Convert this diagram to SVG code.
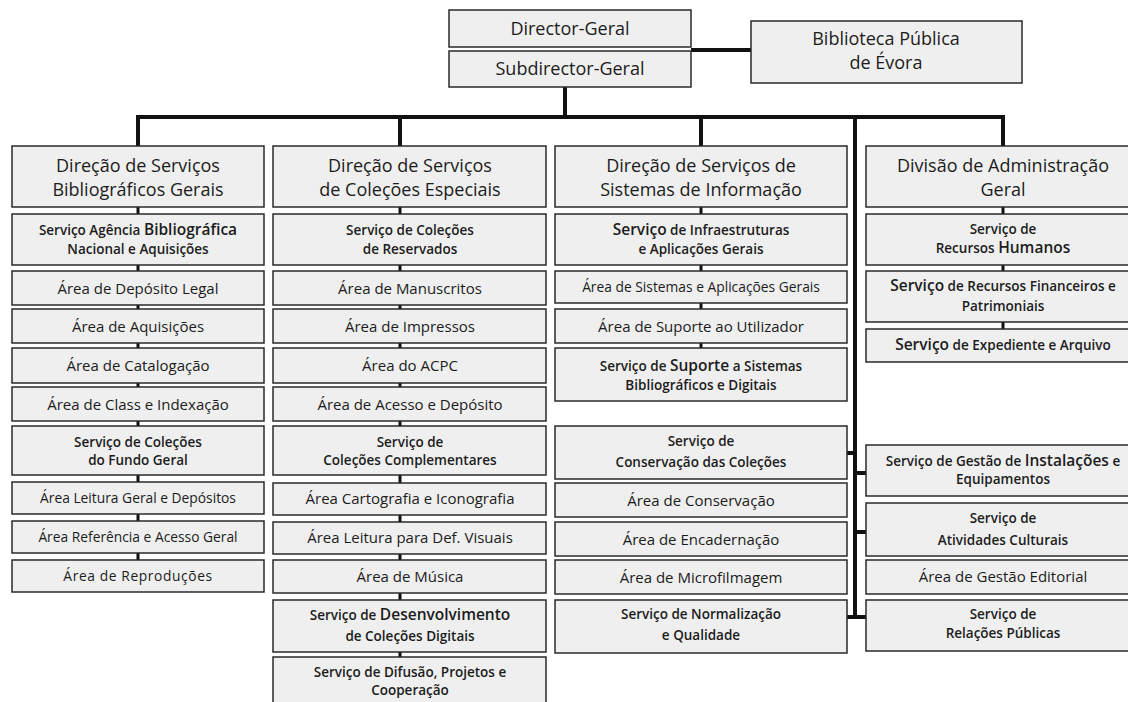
<svg xmlns="http://www.w3.org/2000/svg" width="1128" height="702" viewBox="0 0 1128 702">
<style>
  .bx { fill: #efefef; stroke: #2a2a2a; stroke-width: 1.5; }
  .ln { stroke: #111; stroke-width: 4; fill: none; stroke-linecap: butt; }
  .cl { stroke: #111; stroke-width: 3; fill: none; }
  text { font-family: "Open Sans", "Liberation Sans", sans-serif; fill: #1c1c1c; text-anchor: middle; }
  .h { font-size: 18px; font-weight: 500; }
  .m { font-size: 15px; font-weight: 500; }
  .sm { font-size: 13.8px; font-weight: 500; }
  .s { font-size: 13.5px; font-weight: 600; }
  .bg { font-size: 15.5px; font-weight: 600; }
</style>
<rect width="1128" height="702" fill="#ffffff"/>

<g id="connectors">
  <line class="ln" x1="691" y1="50" x2="751" y2="50"/>
  <line class="ln" x1="565" y1="87" x2="565" y2="117"/>
  <line class="ln" x1="136" y1="117" x2="1005" y2="117"/>
  <line class="ln" x1="138" y1="115" x2="138" y2="146"/>
  <line class="ln" x1="400" y1="115" x2="400" y2="146"/>
  <line class="ln" x1="701" y1="115" x2="701" y2="146"/>
  <line class="ln" x1="1003" y1="115" x2="1003" y2="146"/>
  <line class="ln" x1="855" y1="115" x2="855" y2="619"/>
  <line class="ln" x1="847" y1="453" x2="855" y2="453"/>
  <line class="ln" x1="855" y1="473" x2="866" y2="473"/>
  <line class="ln" x1="855" y1="532" x2="866" y2="532"/>
  <line class="ln" x1="847" y1="617" x2="866" y2="617"/>
  <line class="cl" x1="138" y1="207" x2="138" y2="560"/>
  <line class="cl" x1="400" y1="207" x2="400" y2="657"/>
  <line class="cl" x1="701" y1="207" x2="701" y2="348"/>
  <line class="cl" x1="1003" y1="207" x2="1003" y2="329"/>
</g>

<g id="director-geral"><rect class="bx" x="449" y="10" width="242" height="37"/><text class="h" x="570" y="35">Director-Geral</text></g>
<g id="subdirector-geral"><rect class="bx" x="449" y="51" width="242" height="36"/><text class="h" x="570" y="75">Subdirector-Geral</text></g>
<g id="biblioteca-evora"><rect class="bx" x="751" y="21" width="271" height="62"/><text class="h" x="886" y="45">Biblioteca Pública</text><text class="h" x="886" y="69">de Évora</text></g>

<!-- Column 1 -->
<g id="dsbg"><rect class="bx" x="12" y="146" width="252" height="61"/><text class="h" x="138" y="172">Direção de Serviços</text><text class="h" x="138" y="196">Bibliográficos Gerais</text></g>
<g id="c1-agencia"><rect class="bx" x="12" y="214" width="252" height="51"/><text class="s" x="138" y="235">Serviço Agência <tspan class="bg">Bibliográfica</tspan></text><text class="s" x="138" y="254">Nacional e Aquisições</text></g>
<g id="c1-deposito"><rect class="bx" x="12" y="271" width="252" height="34"/><text class="m" x="138" y="293.5">Área de Depósito Legal</text></g>
<g id="c1-aquisicoes"><rect class="bx" x="12" y="309" width="252" height="34"/><text class="m" x="138" y="331.5">Área de Aquisições</text></g>
<g id="c1-catalogacao"><rect class="bx" x="12" y="348" width="252" height="35"/><text class="m" x="138" y="371">Área de Catalogação</text></g>
<g id="c1-class"><rect class="bx" x="12" y="387" width="252" height="34"/><text class="m" x="138" y="409.5">Área de Class e Indexação</text></g>
<g id="c1-fundo-geral"><rect class="bx" x="12" y="426" width="252" height="49"/><text class="s" x="138" y="447">Serviço de Coleções</text><text class="s" x="138" y="465">do Fundo Geral</text></g>
<g id="c1-leitura"><rect class="bx" x="12" y="482" width="252" height="32"/><text class="sm" x="138" y="503">Área Leitura Geral e Depósitos</text></g>
<g id="c1-referencia"><rect class="bx" x="12" y="521" width="252" height="32"/><text class="sm" x="138" y="542">Área Referência e Acesso Geral</text></g>
<g id="c1-reproducoes"><rect class="bx" x="12" y="560" width="252" height="32"/><text class="sm" x="138" y="581" letter-spacing="0.6">Área  de Reproduções</text></g>

<!-- Column 2 -->
<g id="dsce"><rect class="bx" x="273" y="146" width="273" height="61"/><text class="h" x="410" y="172">Direção de Serviços</text><text class="h" x="410" y="196">de Coleções Especiais</text></g>
<g id="c2-reservados"><rect class="bx" x="273" y="214" width="273" height="51"/><text class="s" x="410" y="235">Serviço de Coleções</text><text class="s" x="410" y="254">de Reservados</text></g>
<g id="c2-manuscritos"><rect class="bx" x="273" y="271" width="273" height="34"/><text class="m" x="410" y="293.5">Área de Manuscritos</text></g>
<g id="c2-impressos"><rect class="bx" x="273" y="309" width="273" height="34"/><text class="m" x="410" y="331.5">Área de Impressos</text></g>
<g id="c2-acpc"><rect class="bx" x="273" y="348" width="273" height="35"/><text class="m" x="410" y="371">Área do ACPC</text></g>
<g id="c2-acesso"><rect class="bx" x="273" y="387" width="273" height="34"/><text class="m" x="410" y="409.5">Área  de Acesso e Depósito</text></g>
<g id="c2-complementares"><rect class="bx" x="273" y="426" width="273" height="49"/><text class="s" x="410" y="447">Serviço de</text><text class="s" x="410" y="465">Coleções Complementares</text></g>
<g id="c2-cartografia"><rect class="bx" x="273" y="483" width="273" height="32"/><text class="m" x="410" y="504">Área Cartografia e Iconografia</text></g>
<g id="c2-def-visuais"><rect class="bx" x="273" y="522" width="273" height="32"/><text class="m" x="410" y="543">Área Leitura para Def. Visuais</text></g>
<g id="c2-musica"><rect class="bx" x="273" y="560" width="273" height="33"/><text class="m" x="410" y="582">Área de Música</text></g>
<g id="c2-digitais"><rect class="bx" x="273" y="600" width="273" height="52"/><text class="s" x="410" y="620">Serviço de <tspan class="bg">Desenvolvimento</tspan></text><text class="s" x="410" y="641">de Coleções Digitais</text></g>
<g id="c2-difusao"><rect class="bx" x="273" y="657" width="273" height="47"/><text class="s" x="410" y="677">Serviço de Difusão, Projetos e</text><text class="s" x="410" y="695">Cooperação</text></g>

<!-- Column 3 -->
<g id="dssi"><rect class="bx" x="555" y="146" width="292" height="61"/><text class="h" x="701" y="172">Direção de Serviços de</text><text class="h" x="701" y="196">Sistemas de Informação</text></g>
<g id="c3-infra"><rect class="bx" x="555" y="214" width="292" height="51"/><text class="s" x="701" y="235"><tspan class="bg">Serviço</tspan> de Infraestruturas</text><text class="s" x="701" y="254">e Aplicações Gerais</text></g>
<g id="c3-sistemas"><rect class="bx" x="555" y="271" width="292" height="32"/><text class="sm" x="701" y="292">Área de Sistemas e Aplicações Gerais</text></g>
<g id="c3-suporte"><rect class="bx" x="555" y="309" width="292" height="34"/><text class="m" x="701" y="332">Área de Suporte ao Utilizador</text></g>
<g id="c3-suporte-sistemas"><rect class="bx" x="555" y="348" width="292" height="53"/><text class="s" x="701" y="371">Serviço de <tspan class="bg">Suporte</tspan> a Sistemas</text><text class="s" x="701" y="390">Bibliográficos e Digitais</text></g>
<g id="c3-conservacao-colecoes"><rect class="bx" x="555" y="426" width="292" height="53"/><text class="s" x="701" y="446">Serviço de</text><text class="s" x="701" y="467">Conservação das Coleções</text></g>
<g id="c3-conservacao"><rect class="bx" x="555" y="483" width="292" height="34"/><text class="m" x="701" y="506">Área de Conservação</text></g>
<g id="c3-encadernacao"><rect class="bx" x="555" y="522" width="292" height="34"/><text class="m" x="701" y="545">Área de Encadernação</text></g>
<g id="c3-microfilmagem"><rect class="bx" x="555" y="560" width="292" height="34"/><text class="m" x="701" y="583">Área de Microfilmagem</text></g>
<g id="c3-normalizacao"><rect class="bx" x="555" y="600" width="292" height="53"/><text class="s" x="701" y="619">Serviço  de Normalização</text><text class="s" x="701" y="640">e Qualidade</text></g>

<!-- Column 4 -->
<g id="dag"><rect class="bx" x="866" y="146" width="274" height="61"/><text class="h" x="1003" y="172">Divisão de Administração</text><text class="h" x="1003" y="196">Geral</text></g>
<g id="c4-rh"><rect class="bx" x="866" y="214" width="274" height="51"/><text class="s" x="1003" y="234">Serviço de</text><text class="s" x="1003" y="253">Recursos <tspan class="bg">Humanos</tspan></text></g>
<g id="c4-financeiros"><rect class="bx" x="866" y="271" width="274" height="51"/><text class="s" x="1003" y="291"><tspan class="bg">Serviço</tspan> de Recursos Financeiros e</text><text class="s" x="1003" y="311">Patrimoniais</text></g>
<g id="c4-expediente"><rect class="bx" x="866" y="329" width="274" height="33"/><text class="s" x="1003" y="350" font-size="14.5"><tspan class="bg">Serviço</tspan> de Expediente e Arquivo</text></g>
<g id="c4-instalacoes"><rect class="bx" x="866" y="445" width="274" height="51"/><text class="s" x="1003" y="466">Serviço de Gestão de <tspan class="bg">Instalações</tspan> e</text><text class="s" x="1003" y="484">Equipamentos</text></g>
<g id="c4-culturais"><rect class="bx" x="866" y="503" width="274" height="53"/><text class="s" x="1003" y="523" font-size="14.5">Serviço de</text><text class="s" x="1003" y="545" font-size="14.5">Atividades Culturais</text></g>
<g id="c4-editorial"><rect class="bx" x="866" y="560" width="274" height="34"/><text class="m" x="1003" y="582">Área de Gestão Editorial</text></g>
<g id="c4-relacoes"><rect class="bx" x="866" y="600" width="274" height="51"/><text class="s" x="1003" y="619">Serviço de</text><text class="s" x="1003" y="638" font-size="14.5">Relações Públicas</text></g>
</svg>
